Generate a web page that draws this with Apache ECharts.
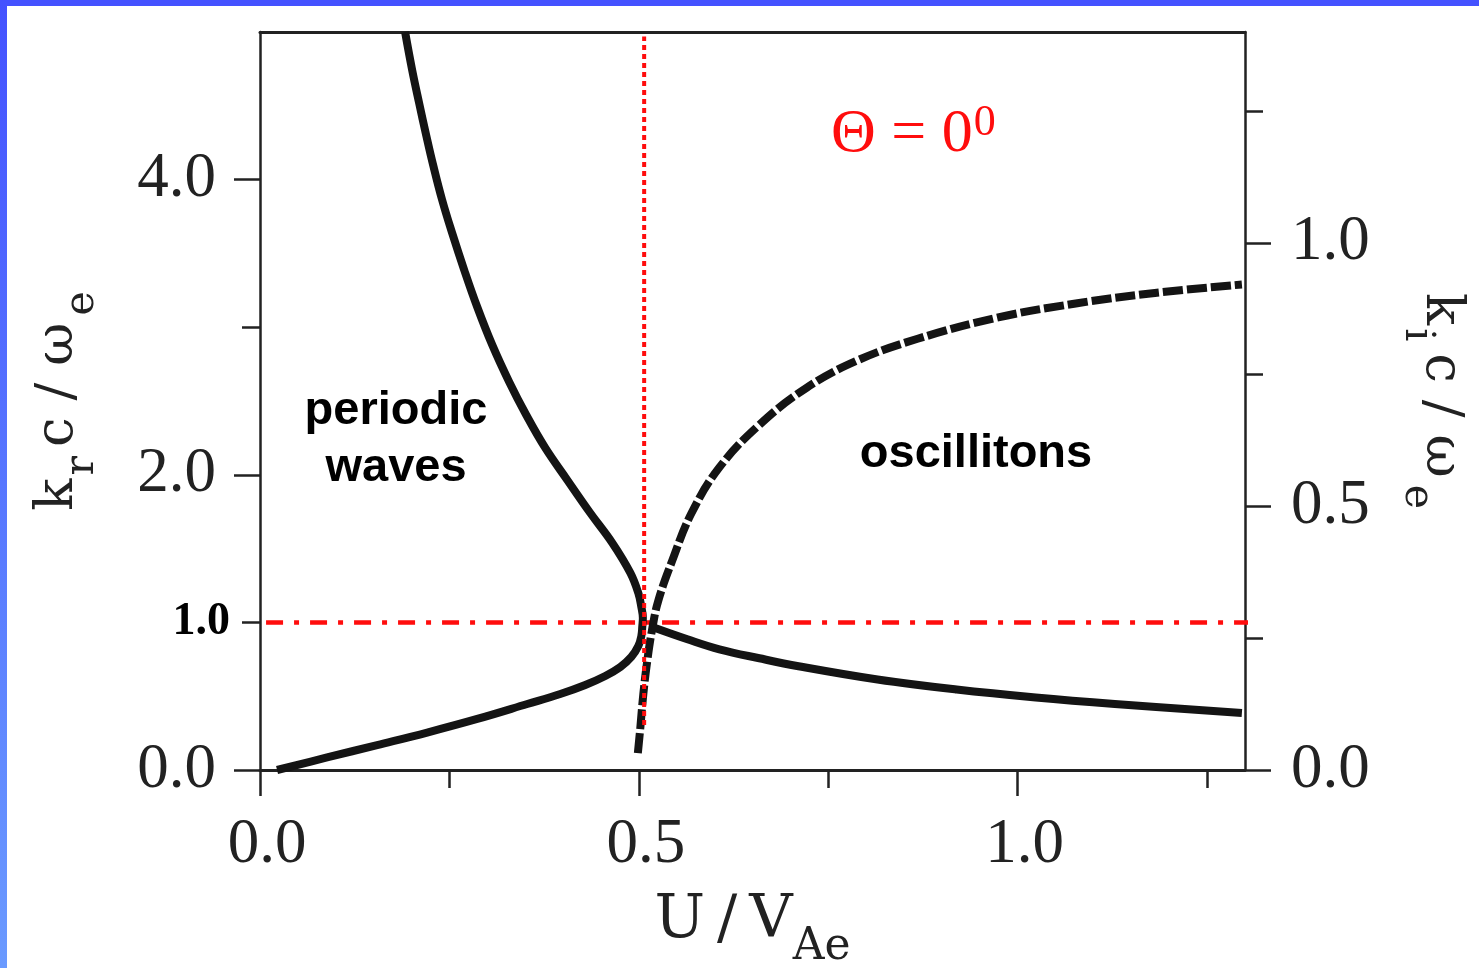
<!DOCTYPE html>
<html>
<head>
<meta charset="utf-8">
<script src="https://cdn.jsdelivr.net/npm/echarts@6/dist/echarts.min.js"></script>
<style>
  html, body { margin: 0; padding: 0; background: #ffffff; }
  #chart { width: 1479px; height: 968px; }
</style>
</head>
<body>
<div id="chart"></div>
<script>
// Tick values for the three axes
const uMajorTicks = [0, 0.5, 1.0];
const uMinorTicks = [0.25, 0.75, 1.25];
const krMajorTicks = [0, 2, 4];
const krMinorTicks = [1, 3];
const krMarkedTicks = [1];
const kiMajorTicks = [0, 0.5, 1.0];
const kiMinorTicks = [0.25, 0.75, 1.25];

// Periodic-wave branch: [U/V_Ae, k_r c/omega_e], traced from the lower arm through the turning point to the upper arm
const periodicKr = [
  [0.0225, 0.000], [0.0885, 0.085], [0.1546, 0.169], [0.2206, 0.254],
  [0.2867, 0.346], [0.3527, 0.447], [0.3963, 0.515], [0.4293, 0.576],
  [0.4557, 0.637], [0.4756, 0.698], [0.4901, 0.766], [0.4993, 0.840],
  [0.5033, 0.908], [0.5046, 0.976], [0.5053, 1.030], [0.5033, 1.104],
  [0.4993, 1.199], [0.4888, 1.335], [0.4650, 1.538], [0.4359, 1.741],
  [0.4055, 1.965], [0.3765, 2.182], [0.3514, 2.405], [0.3289, 2.629],
  [0.3065, 2.880], [0.2867, 3.137], [0.2695, 3.388], [0.2536, 3.638],
  [0.2404, 3.862], [0.2285, 4.099], [0.2193, 4.302], [0.2100, 4.519],
  [0.2008, 4.743], [0.1915, 5.000]
];

// Oscilliton branch, real part: [U/V_Ae, k_r c/omega_e]
const oscillitonKr = [
  [0.5178, 0.969], [0.5641, 0.886], [0.6063, 0.818], [0.6590, 0.757],
  [0.7107, 0.703], [0.8151, 0.613], [0.9194, 0.545], [1.0238, 0.491],
  [1.1281, 0.447], [1.2959, 0.386]
];

// Oscilliton branch, imaginary part: [U/V_Ae, k_i c/omega_e]
const oscillitonKi = [
  [0.4987, 0.032], [0.5020, 0.081], [0.5059, 0.144], [0.5112, 0.208],
  [0.5178, 0.269], [0.5258, 0.322], [0.5443, 0.398], [0.5694, 0.487],
  [0.6063, 0.574], [0.6592, 0.655], [0.7213, 0.725], [0.7886, 0.777],
  [0.8679, 0.818], [0.9723, 0.858], [1.0766, 0.885], [1.1810, 0.905],
  [1.2959, 0.921]
];

// Guide lines: critical speed and k_r c/omega_e = 1
const criticalSpeedLine = [[0.507, 0.305], [0.507, 4.97]];
const unitWavenumberLine = [[0.008, 1.0], [1.306, 1.0]];

const INK = '#222222';
const CURVE = '#141414';
const RED = '#ff0d0d';
const tickFont = 'Liberation Serif';
const titleFont = 'DejaVu Serif';

function fmt(v) { return Number(v).toFixed(1); }

const chart = echarts.init(document.getElementById('chart'), null, { renderer: 'canvas' });

const baseAxis = {
  type: 'value',
  splitLine: { show: false },
  axisLine: { show: false, onZero: false },
  axisTick: { show: false },
  axisLabel: { show: false },
  nameMoveOverlap: false
};

function tickStyle(values, len) {
  return { show: true, inside: false, length: len, customValues: values,
           lineStyle: { color: INK, width: 2.5 } };
}

// rich styles shared by the two vertical axis titles
function verticalTitleRich(subPadRight) {
  return {
    m: { fontFamily: titleFont, fontSize: 53, color: INK },
    s: { fontFamily: titleFont, fontSize: 41, color: INK, padding: [48, subPadRight, 0, 3] },
    t: { fontFamily: titleFont, fontSize: 41, color: INK, padding: [48, 0, 0, 7] }
  };
}

const option = {
  animation: false,
  backgroundColor: '#ffffff',
  grid: { left: 260, right: 234, top: 32, bottom: 198, outerBoundsMode: 'none', containLabel: false },
  xAxis: [
    Object.assign({}, baseAxis, {
      position: 'bottom', min: 0, max: 1.3,
      axisLine: { show: true, onZero: false, lineStyle: { color: INK, width: 3 } },
      axisTick: tickStyle(uMajorTicks, 26),
      axisLabel: { show: true, customValues: uMajorTicks, formatter: fmt,
                   fontFamily: tickFont, fontSize: 63, color: INK, margin: 44,
                   padding: [0, 0, 0, 14] },
      name: '{m|U\u2009/\u2009V}{s|Ae}',
      nameLocation: 'middle', nameGap: 103,
      nameTextStyle: {
        color: INK,
        rich: {
          m: { fontFamily: titleFont, fontSize: 60, color: INK },
          s: { fontFamily: titleFont, fontSize: 44, color: INK, padding: [53, 0, 0, 0] }
        }
      }
    }),
    Object.assign({}, baseAxis, {
      position: 'bottom', min: 0, max: 1.3,
      axisTick: tickStyle(uMinorTicks, 18)
    }),
    Object.assign({}, baseAxis, {
      position: 'top', min: 0, max: 1.3,
      axisLine: { show: true, onZero: false, lineStyle: { color: INK, width: 3 } }
    })
  ],
  yAxis: [
    Object.assign({}, baseAxis, {
      position: 'left', min: 0, max: 5,
      axisLine: { show: true, onZero: false, lineStyle: { color: INK, width: 2.5 } },
      axisTick: tickStyle(krMajorTicks, 26),
      axisLabel: { show: true, customValues: krMajorTicks, formatter: fmt,
                   fontFamily: tickFont, fontSize: 63, color: INK, margin: 44 },
      name: '{m|k}{s|r}{m|c / \u03c9}{t|e}',
      nameLocation: 'middle', nameRotate: 90, nameGap: 157,
      nameTextStyle: { color: INK, rich: verticalTitleRich(9) }
    }),
    Object.assign({}, baseAxis, {
      position: 'right', min: 0, max: 1.4,
      axisLine: { show: true, onZero: false, lineStyle: { color: INK, width: 2.5 } },
      axisTick: tickStyle(kiMajorTicks, 26),
      axisLabel: { show: true, customValues: kiMajorTicks, formatter: fmt,
                   fontFamily: tickFont, fontSize: 63, color: INK, margin: 46 },
      name: '{m|k}{s|i}{m|c / \u03c9}{t|e}',
      nameLocation: 'middle', nameRotate: -90, nameGap: 151,
      nameTextStyle: { color: INK, rich: verticalTitleRich(12) }
    }),
    Object.assign({}, baseAxis, {
      position: 'left', min: 0, max: 5,
      axisTick: tickStyle(krMinorTicks, 18),
      axisLabel: { show: true, customValues: krMarkedTicks, formatter: fmt,
                   fontFamily: tickFont, fontWeight: 'bold', fontSize: 46,
                   color: '#000000', margin: 30 }
    }),
    Object.assign({}, baseAxis, {
      position: 'right', min: 0, max: 1.4,
      axisTick: tickStyle(kiMinorTicks, 18)
    })
  ],
  series: [
    {
      name: 'k = 1',
      type: 'line', xAxisIndex: 0, yAxisIndex: 0,
      data: unitWavenumberLine, symbol: 'none', clip: false, z: 1,
      lineStyle: { color: RED, width: 4.5, type: [17, 11, 5, 11], cap: 'butt' }
    },
    {
      name: 'k_i oscillitons',
      type: 'line', xAxisIndex: 0, yAxisIndex: 1,
      data: oscillitonKi, symbol: 'none', smooth: 0.4, z: 2,
      lineStyle: { color: CURVE, width: 8, type: [20, 4], cap: 'butt', join: 'round' }
    },
    {
      name: 'k_r periodic',
      type: 'line', xAxisIndex: 0, yAxisIndex: 0,
      data: periodicKr, symbol: 'none', smooth: 0.4, z: 3,
      lineStyle: { color: CURVE, width: 8, cap: 'butt', join: 'round' }
    },
    {
      name: 'k_r oscillitons',
      type: 'line', xAxisIndex: 0, yAxisIndex: 0,
      data: oscillitonKr, symbol: 'none', smooth: 0.4, z: 3,
      lineStyle: { color: CURVE, width: 8, cap: 'butt', join: 'round' }
    },
    {
      name: 'critical speed',
      type: 'line', xAxisIndex: 0, yAxisIndex: 0,
      data: criticalSpeedLine, symbol: 'none', z: 4,
      lineStyle: { color: RED, width: 4, type: [5, 4], cap: 'butt' }
    }
  ],
  graphic: [
    // slide frame
    { type: 'rect', left: 0, top: 0, z: 100, silent: true,
      shape: { width: 1479, height: 6 }, style: { fill: '#4452ff' } },
    { type: 'rect', left: 0, top: 0, z: 100, silent: true,
      shape: { width: 7, height: 968 },
      style: { fill: new echarts.graphic.LinearGradient(0, 0, 0, 1, [
        { offset: 0, color: '#4452ff' }, { offset: 1, color: '#6a9aff' }]) } },
    // region annotations
    { type: 'text', x: 396, y: 440, z: 50, silent: true,
      style: { text: 'periodic\nwaves', fontFamily: 'Liberation Sans', fontWeight: 'bold',
               fontSize: 47, lineHeight: 57, fill: '#000000', align: 'center', verticalAlign: 'middle' } },
    { type: 'text', x: 976, y: 454, z: 50, silent: true,
      style: { text: 'oscillitons', fontFamily: 'Liberation Sans', fontWeight: 'bold',
               fontSize: 47, fill: '#000000', align: 'center', verticalAlign: 'middle' } },
    { type: 'text', x: 831, y: 135, z: 50, silent: true,
      style: { text: '{m|\u0398 = 0}{p|0}', align: 'left', verticalAlign: 'middle',
               rich: {
                 m: { fontFamily: 'Liberation Serif', fontSize: 62, fill: RED, color: RED },
                 p: { fontFamily: 'Liberation Serif', fontSize: 44, fill: RED, color: RED, padding: [0, 0, 24, 1] }
               } } }
  ]
};

chart.setOption(option);
</script>
</body>
</html>
